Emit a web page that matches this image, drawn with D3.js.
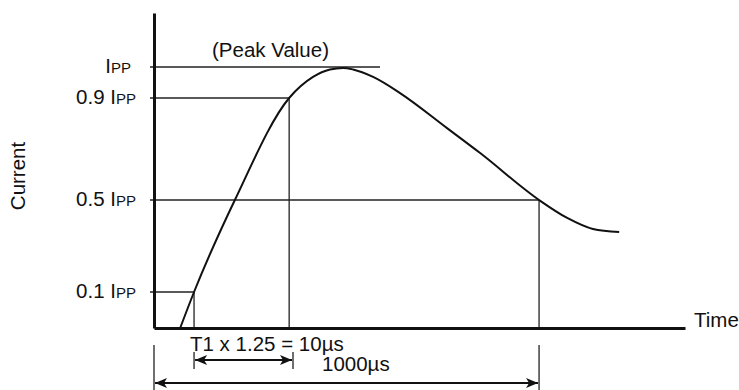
<!DOCTYPE html>
<html>
<head>
<meta charset="utf-8">
<script src="https://cdn.jsdelivr.net/npm/d3@7"></script>
<style>
  body { margin: 0; background: #fff; }
  svg { display: block; font-family: "Liberation Sans", Arial, sans-serif; }
</style>
</head>
<body>
<div id="chart"></div>
<script>
// Schematic pulse waveform (time in schematic µs, current as fraction of IPP)
const waveTime = [68, 104, 210, 351, 413, 457, 491, 517, 569, 639, 761, 847, 1000, 1073, 1140, 1208];
const waveCurrent = [0, 0.1, 0.5, 0.9, 0.968, 0.992, 0.997, 0.992, 0.968, 0.916, 0.782, 0.684, 0.5, 0.422, 0.374, 0.361];

// Reference levels
const levelValues = [1.0, 0.9, 0.5, 0.1];
const levelPrefix = ["", "0.9 ", "0.5 ", "0.1 "];
const levelEndTime = [587, 351, 1000, 104];
const levelDrop = [false, true, true, true];

// Dimension arrows
const spanStart = [104, 0];
const spanEnd = [361, 1000];
const spanLabels = ["T1 x 1.25 = 10\u00b5s", "1000\u00b5s"];

const width = 739;
const height = 390;
const fontSize = 20.5;

const x = d3.scaleLinear()
  .domain([0, 1379])
  .range([154, 685]);

// the drawing is a sketch, so the current levels are not evenly spaced
const y = d3.scaleLinear()
  .domain([0, 0.1, 0.5, 0.9, 1.0, 1.2])
  .range([328, 292, 200, 98, 67, 13]);

const svg = d3.select("#chart")
  .append("svg")
    .attr("width", width)
    .attr("height", height);

const defs = svg.append("defs");
["start", "end"].forEach(name => {
  defs.append("marker")
      .attr("id", "arrow-" + name)
      .attr("viewBox", "0 -5 12 10")
      .attr("refX", 12)
      .attr("refY", 0)
      .attr("markerUnits", "userSpaceOnUse")
      .attr("markerWidth", 13)
      .attr("markerHeight", 10)
      .attr("orient", name === "end" ? "auto" : "auto-start-reverse")
    .append("path")
      .attr("d", "M0,-5L12,0L0,5L3,0Z")
      .attr("fill", "#111");
});

// Reference lines for each level
levelValues.forEach((v, i) => {
  svg.append("line")
      .attr("x1", x(0) - 4)
      .attr("x2", x(levelEndTime[i]))
      .attr("y1", y(v))
      .attr("y2", y(v))
      .attr("stroke", "#222")
      .attr("stroke-width", 1.3);

  if (levelDrop[i]) {
    svg.append("line")
        .attr("x1", x(levelEndTime[i]))
        .attr("x2", x(levelEndTime[i]))
        .attr("y1", y(v))
        .attr("y2", y(0))
        .attr("stroke", "#222")
        .attr("stroke-width", 1.3);
  }

  const label = svg.append("text")
      .attr("x", levelPrefix[i] ? 136 : 131)
      .attr("y", y(v) + 6)
      .attr("text-anchor", "end")
      .attr("font-size", fontSize)
      .attr("fill", "#111");
  label.append("tspan").text(levelPrefix[i] + "I");
  label.append("tspan").attr("font-size", 15).text("PP");
});

// Axes (no ticks, just the heavy lines)
svg.append("g")
    .attr("transform", `translate(0,${y(0)})`)
    .call(d3.axisBottom(x).tickValues([]).tickSizeOuter(0))
    .select(".domain")
      .attr("stroke", "#111")
      .attr("stroke-width", 3);

svg.append("g")
    .attr("transform", `translate(${x(0)},0)`)
    .call(d3.axisLeft(y).tickValues([]).tickSizeOuter(0))
    .select(".domain")
      .attr("stroke", "#111")
      .attr("stroke-width", 3);

// The waveform
const line = d3.line()
  .x((d, i) => x(waveTime[i]))
  .y(d => y(d))
  .curve(d3.curveMonotoneX);

svg.append("path")
    .datum(waveCurrent)
    .attr("d", line)
    .attr("fill", "none")
    .attr("stroke", "#111")
    .attr("stroke-width", 2);

// Dimension arrows under the time axis
const arrowY = [360, 383];
const tickTop = [352, 345];
spanStart.forEach((s, i) => {
  [s, spanEnd[i]].forEach(t => {
    svg.append("line")
        .attr("x1", x(t))
        .attr("x2", x(t))
        .attr("y1", tickTop[i])
        .attr("y2", i ? 390 : 369)
        .attr("stroke", "#222")
        .attr("stroke-width", 1.3);
  });
  svg.append("line")
      .attr("x1", x(s) + 1)
      .attr("x2", x(spanEnd[i]) - 1)
      .attr("y1", arrowY[i])
      .attr("y2", arrowY[i])
      .attr("stroke", "#111")
      .attr("stroke-width", 1.8)
      .attr("marker-start", "url(#arrow-start)")
      .attr("marker-end", "url(#arrow-end)");
});

svg.append("text")
    .attr("x", 190)
    .attr("y", 351)
    .attr("font-size", fontSize)
    .attr("fill", "#111")
    .text(spanLabels[0]);

svg.append("text")
    .attr("x", 322)
    .attr("y", 371)
    .attr("font-size", fontSize)
    .attr("fill", "#111")
    .text(spanLabels[1]);

svg.append("text")
    .attr("x", 212)
    .attr("y", 57)
    .attr("font-size", fontSize)
    .attr("fill", "#111")
    .text("(Peak Value)");

// Axis titles
svg.append("text")
    .attr("x", 694)
    .attr("y", 327)
    .attr("font-size", fontSize)
    .attr("fill", "#111")
    .text("Time");

svg.append("text")
    .attr("transform", "translate(25,176) rotate(-90)")
    .attr("text-anchor", "middle")
    .attr("font-size", fontSize)
    .attr("fill", "#111")
    .text("Current");
</script>
</body>
</html>
